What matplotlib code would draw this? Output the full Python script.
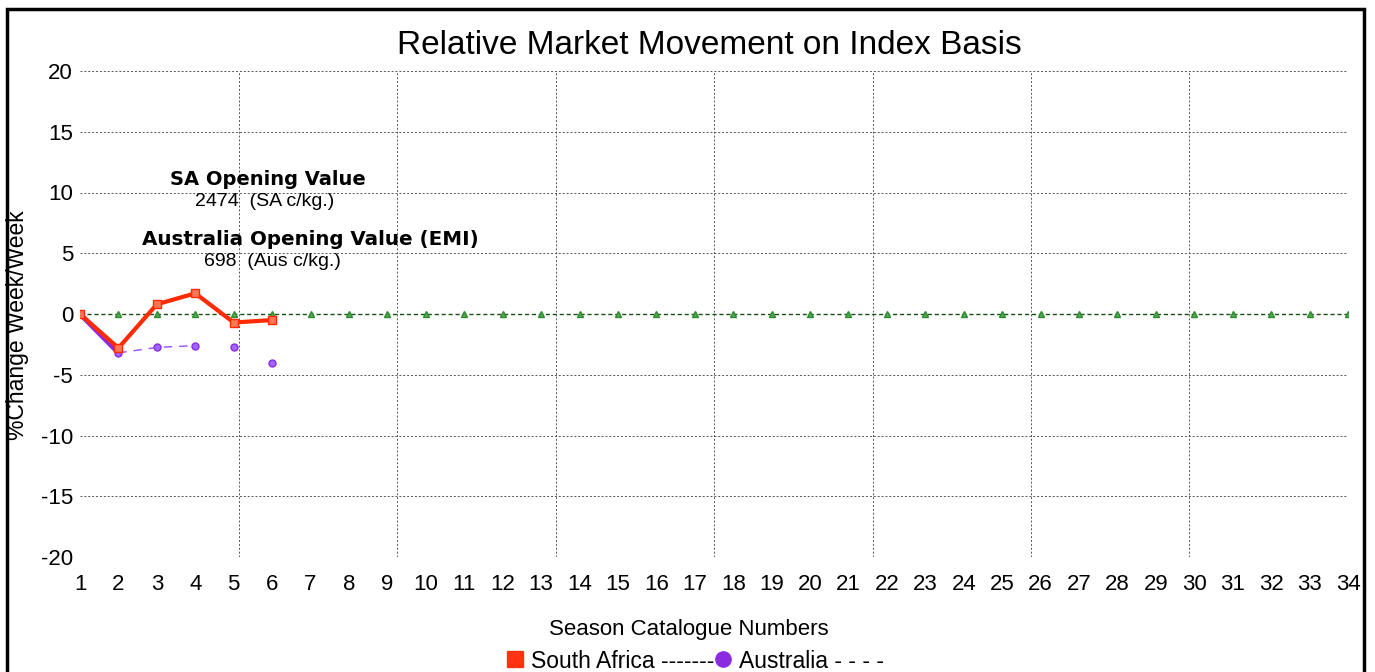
import matplotlib
matplotlib.use("Agg")
import matplotlib.pyplot as plt
import numpy as np
from matplotlib.lines import Line2D
from matplotlib.patches import Rectangle

plt.rcParams["font.family"] = ["Liberation Sans", "DejaVu Sans"]
plt.rcParams["axes.unicode_minus"] = False

# --- data ---
catalogues = list(range(1, 35))
sale_nos = [1, 2, 3, 4, 5, 6]
south_africa = [0.0, -2.8, 0.8, 1.7, -0.7, -0.5]
australia = [0.0, -3.2, -2.75, -2.6, -2.75, -4.05]
baseline = [0.0] * len(catalogues)

sa_label = "SA Opening Value"
sa_value = "2474  (SA c/kg.)"
aus_label = "Australia Opening Value (EMI)"
aus_value = "698  (Aus c/kg.)"

fig = plt.figure(figsize=(13.75, 6.72), dpi=100)
ax = fig.add_axes([80 / 1375, 1 - 557 / 672, (1348 - 80) / 1375, (557 - 71) / 672])

# outer frame (runs off the bottom edge like the original)
fig.patches.append(Rectangle((7 / 1375, -0.05), (1364 - 7) / 1375, 1 - 9 / 672 + 0.05,
                             transform=fig.transFigure, fill=False, edgecolor="black",
                             linewidth=2.5, clip_on=False))

# grid
for y in range(-20, 21, 5):
    if y != 0:
        ax.axhline(y, color="#555555", linestyle=(0, (2, 2)), linewidth=0.7, zorder=1)
for xg in np.linspace(1, 34, 9)[1:-1]:
    ax.axvline(xg, color="#555555", linestyle=(0, (2, 2)), linewidth=0.7, zorder=1)

# baseline series
ax.plot(catalogues, baseline, color="#1a4d1a", linestyle=(0, (3, 2)), linewidth=1.0, zorder=2)
ax.plot(catalogues, baseline, linestyle="none", marker="^", markersize=5,
        markerfacecolor="#55aa55", markeredgecolor="#2e8b2e", zorder=3)

# Australia
ax.plot(sale_nos[:2], australia[:2], color="#8a2be2", linewidth=3.5, zorder=4)
ax.plot(sale_nos[1:4], australia[1:4], color="#9b4dff", linewidth=1.0,
        linestyle=(0, (6, 5)), zorder=4)
ax.plot(sale_nos, australia, linestyle="none", marker="o", markersize=5,
        markerfacecolor="#a066ff", markeredgecolor="#8a2be2", zorder=5)

# South Africa
ax.plot(sale_nos, south_africa, color="#ff2a00", linewidth=3, zorder=6)
ax.plot(sale_nos, south_africa, linestyle="none", marker="s", markersize=6,
        markerfacecolor="#ff7755", markeredgecolor="#ff2a00", zorder=7)

ax.set_xlim(1, 34)
ax.set_ylim(-20, 20)
ax.set_xticks(catalogues)
ax.set_yticks(range(-20, 21, 5))
ax.tick_params(length=0, labelsize=16)
ax.tick_params(axis="x", pad=12)
ax.tick_params(axis="y", pad=5)
for s in ax.spines.values():
    s.set_visible(False)

fig.text(709 / 1375, 1 - 46 / 672, "Relative Market Movement on Index Basis",
         ha="center", va="center", fontsize=24)
fig.text(18 / 1375, 1 - 325 / 672, "%Change Week/Week", rotation=90,
         ha="center", va="center", fontsize=16.5)
fig.text(689 / 1375, 1 - 629 / 672, "Season Catalogue Numbers",
         ha="center", va="center", fontsize=16)

ax.text(5.89, 11.1, sa_label, ha="center", va="center", fontsize=14,
        fontweight="bold", family="DejaVu Sans")
ax.text(5.8, 9.3, sa_value, ha="center", va="center", fontsize=14)
ax.text(6.99, 6.1, aus_label, ha="center", va="center", fontsize=14.3,
        fontweight="bold", family="DejaVu Sans")
ax.text(6.0, 4.3, aus_value, ha="center", va="center", fontsize=14)

handles = [
    Line2D([], [], linestyle="none", marker="s", markersize=11,
           markerfacecolor="#ff3311", markeredgecolor="#ff3311"),
    Line2D([], [], linestyle="none", marker="o", markersize=11,
           markerfacecolor="#8a2be2", markeredgecolor="#8a2be2"),
]
fig.legend(handles, ["South Africa -------", "Australia - - - -"], ncol=2,
           loc="center", bbox_to_anchor=(695 / 1375, 1 - 661 / 672), frameon=False,
           fontsize=16.5, handlelength=0.8, handletextpad=0.3, columnspacing=0.0,
           borderpad=0)

fig.savefig("out.png", dpi=100)
